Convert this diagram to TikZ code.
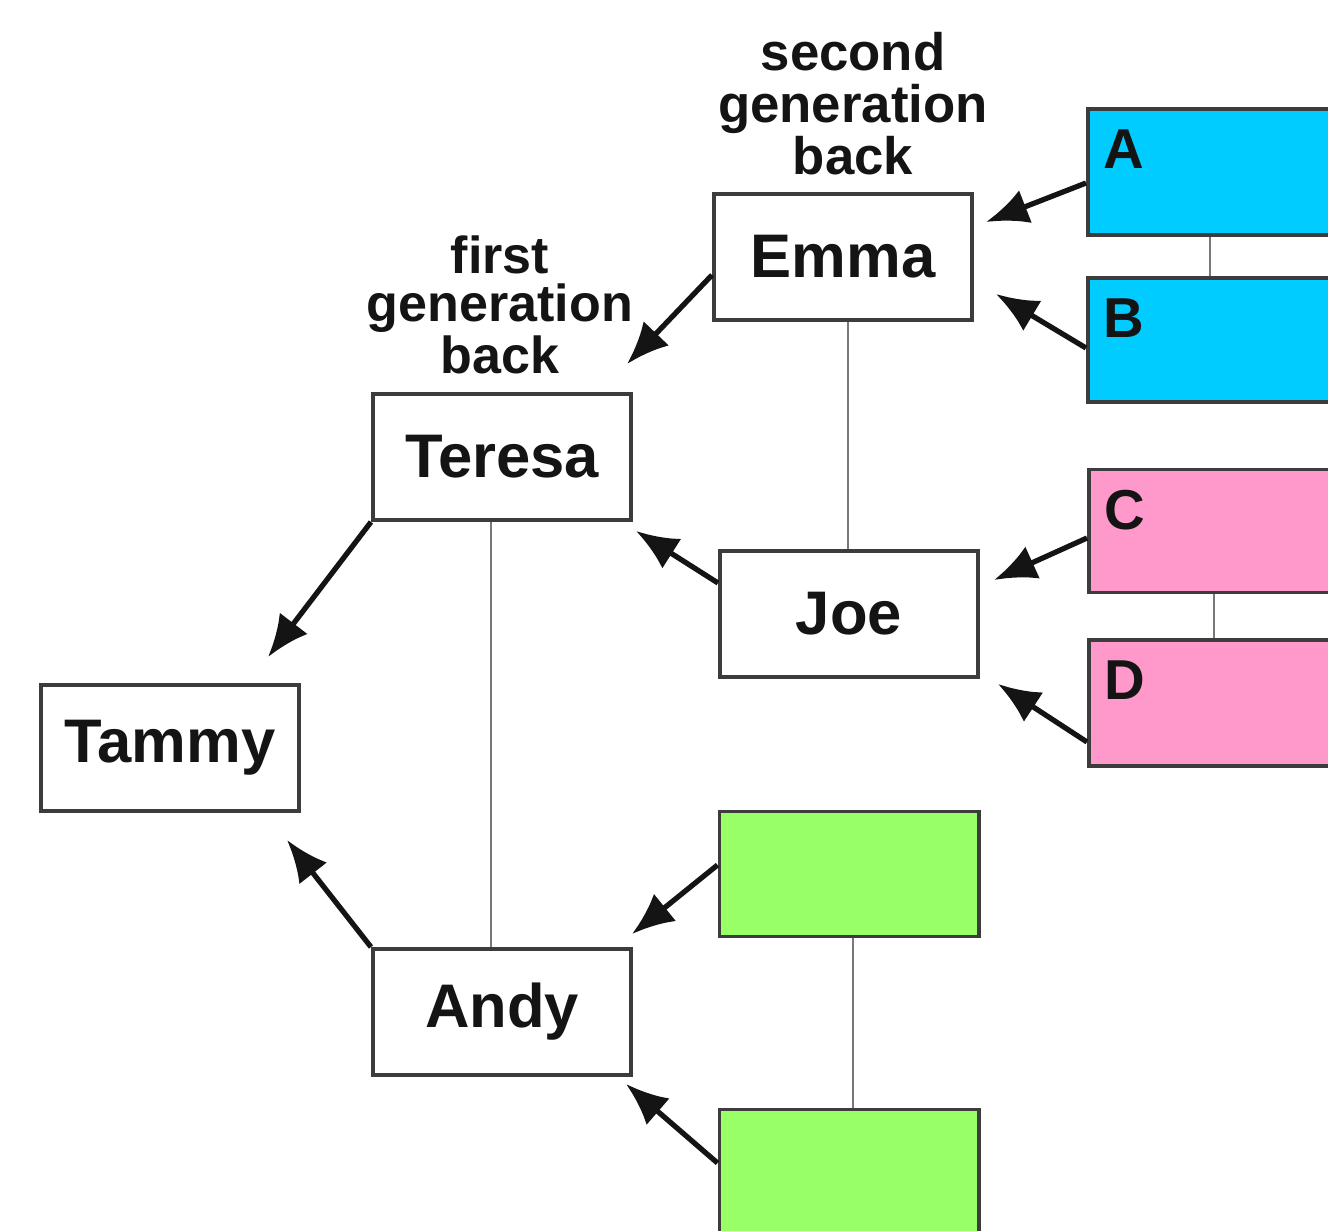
\documentclass[tikz,border=0pt]{standalone}
\usepackage{fontspec}
\setmainfont{Liberation Sans}
\usepackage{tikz}
\usetikzlibrary{positioning}
\usetikzlibrary{calc}
\usetikzlibrary{arrows.meta}
\definecolor{inkblack}{RGB}{20,20,20}
\definecolor{boxgray}{RGB}{60,60,60}
\definecolor{linegray}{RGB}{120,120,120}
\definecolor{genblue}{RGB}{0,204,255}
\definecolor{genpink}{RGB}{255,153,204}
\definecolor{gengreen}{RGB}{153,255,102}

\begin{document}
\begin{tikzpicture}[x=0.01cm,y=-0.01cm,
		person/.style={draw=boxgray, line width=1.1pt, fill=white, minimum width=2.58cm, minimum height=1.26cm, inner sep=0pt, text=inkblack, font=\fontsize{17.5}{20}\selectfont\bfseries},
		ancestor/.style={draw=boxgray, line width=1.1pt, minimum width=3cm, minimum height=1.26cm, inner sep=0pt},
		letter/.style={label={[anchor=north west, inner sep=0pt, xshift=0.17cm, yshift=-0.22cm, text=inkblack, font=\fontsize{16}{18}\selectfont\bfseries]north west:#1}},
		parent/.style={-{Latex[length=12pt,width=10pt]}, line width=1.5pt, color=inkblack},
		couple/.style={line width=0.6pt, color=linegray}]
				\useasboundingbox (0,0) rectangle (1328,1230);
				\clip (0,0) rectangle (1328,1230);
				
				\node[person] (emma) at (843,257) {Emma};
				\node[person] (teresa) at (502,457) {Teresa};
				\node[person] (tammy) at (170,748) {Tammy};
				\node[person] (joe) at (849,614) {Joe};
				\node[person] (andy) at (502,1012) {Andy};
				
				\node[ancestor, fill=genblue, letter=A] (ancA) at (1238,172) {};
				\node[ancestor, fill=genblue, letter=B, minimum height=1.24cm] (ancB) at (1238,340) {};
				\node[ancestor, fill=genpink, letter=C, minimum height=1.23cm] (ancC) at (1239,531) {};
				\node[ancestor, fill=genpink, letter=D] (ancD) at (1239,703) {};
				\node[ancestor, fill=gengreen, minimum width=2.59cm, minimum height=1.25cm] (ancE) at (849,874) {};
				\node[ancestor, fill=gengreen, minimum width=2.59cm, minimum height=1.25cm] (ancF) at (849,1172) {};
				
				\node[align=center, inner sep=0pt, text=inkblack, font=\fontsize{15}{14.8}\selectfont\bfseries] (second) at (853,104) {second\\generation\\back};
				\node[align=center, inner sep=0pt, text=inkblack, font=\fontsize{14.8}{13.7}\selectfont\bfseries] (first) at (500,305) {first\\generation\\back};
				
				% couples
				\draw[couple] ($(emma.south)+(5,0)$) -- ($(joe.north)+(-1,0)$);
				\draw[couple] ($(teresa.south)+(-11,0)$) -- ($(andy.north)+(-11,0)$);
				\draw[couple] ($(ancA.south west)+(124,0)$) -- ($(ancB.north west)+(124,0)$);
				\draw[couple] ($(ancC.south west)+(127,0)$) -- ($(ancD.north west)+(127,0)$);
				\draw[couple] ($(ancE.south)+(4,0)$) -- ($(ancF.north)+(4,0)$);
				
				% parents to children
				\draw[parent] ($(ancA.west)+(0,11)$) -- ($(emma.east)+(12,-35)$);
				\draw[parent] ($(ancB.west)+(0,8)$) -- ($(emma.east)+(22,37)$);
				\draw[parent] ($(emma.west)+(0,18)$) -- ($(teresa.north east)+(-6,-28)$);
				\draw[parent] ($(ancC.west)+(0,7)$) -- ($(joe.east)+(14,-34)$);
				\draw[parent] ($(ancD.west)+(0,39)$) -- ($(joe.south east)+(18,5)$);
				\draw[parent] ($(joe.west)+(0,-31)$) -- ($(teresa.south east)+(3,9)$);
				\draw[parent] (teresa.south west) -- ($(tammy.north east)+(-33,-26)$);
				\draw[parent] (andy.north west) -- ($(tammy.south east)+(-14,27)$);
				\draw[parent] ($(ancE.west)+(0,-9)$) -- ($(andy.north east)+(-1,-13)$);
				\draw[parent] ($(ancF.west)+(0,-9)$) -- ($(andy.south east)+(-7,7)$);
			\end{tikzpicture}
\end{document}
